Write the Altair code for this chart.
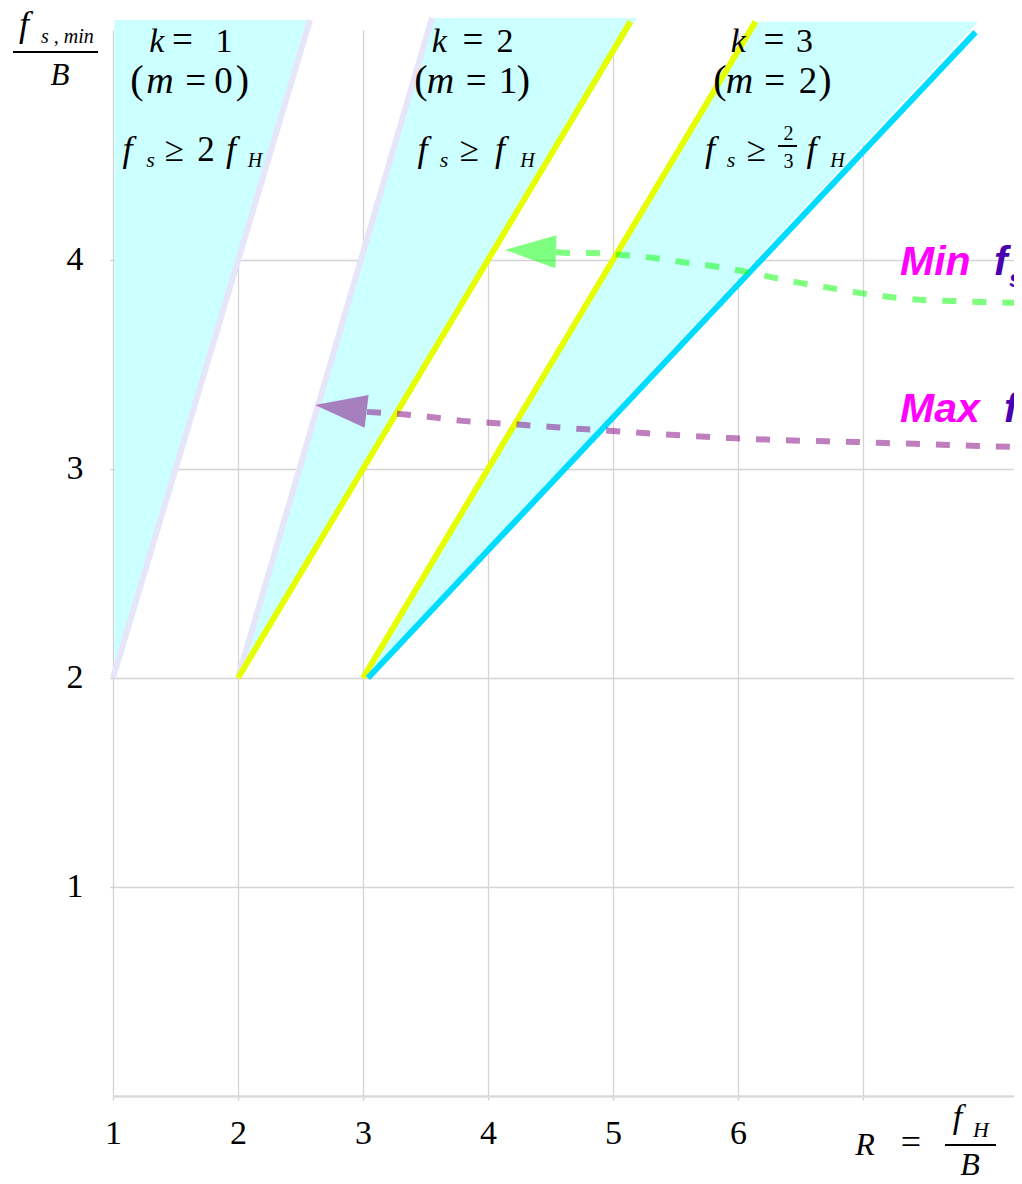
import altair as alt
import pandas as pd

# ---------------- data ----------------
# shaded wedges (allowed sampling regions), k = 1, 2, 3
wedge_k = [1, 2, 3]
wedge_bottom_R = [1.01, 2.0, 3.02]
wedge_bottom_y = [2.0, 2.0, 2.0]
wedge_top_y = [5.148, 5.158, 5.139]
wedge_top_left_R = [1.01, 3.552, 6.14]
wedge_top_right_R = [2.55, 5.19, 7.92]

# boundary lines of the wedges
line_name = ["lav1", "lav2", "yel2", "yel3", "cyan3"]
line_kind = ["lavender", "lavender", "yellow", "yellow", "cyan"]
line_R0 = [1.0, 2.0, 2.0, 3.0, 3.04]
line_y0 = [2.0, 2.0, 2.0, 2.0, 2.0]
line_R1 = [2.576, 3.552, 5.14, 6.14, 7.9]
line_y1 = [5.148, 5.158, 5.14, 5.14, 5.09]

# dashed "Min fs" curve (green), from arrow base to right edge
min_R = [4.544, 4.672, 4.84, 5.072, 5.312, 5.552, 5.792, 6.032, 6.256, 6.496,
         6.736, 6.976, 7.216, 7.456, 7.696, 7.936, 8.272]
min_y = [4.038, 4.033, 4.033, 4.024, 4.010, 3.990, 3.971, 3.947, 3.919, 3.890,
         3.866, 3.842, 3.823, 3.809, 3.804, 3.799, 3.794]
min_tip = (4.136, 4.048)

# dashed "Max fs" curve (purple)
max_R = [3.032, 3.296, 3.536, 3.792, 4.04, 4.272, 4.512, 4.752, 5.0, 5.24,
         5.936, 6.704, 6.944, 7.184, 7.424, 7.68, 7.92, 8.272]
max_y = [3.273, 3.263, 3.249, 3.230, 3.220, 3.211, 3.201, 3.191, 3.182, 3.172,
         3.148, 3.132, 3.129, 3.124, 3.120, 3.115, 3.110, 3.105]
max_tip = (2.616, 3.306)

x_ticks = [1, 2, 3, 4, 5, 6, 7]
y_ticks = [1, 2, 3, 4]

# ---------------- annotation text pieces ----------------
L1, L2, L3, SUB = 4.995, 4.799, 4.474, 4.445
pieces = [
    # k = 1
    ("k", 1.350, L1, 34, "i"), ("=", 1.556, L1, 37, "n"), ("1", 1.888, L1, 34, "n"),
    ("(", 1.192, L2, 40, "n"), ("m", 1.376, L2, 38, "i"), ("=", 1.662, L2, 37, "n"),
    ("0", 1.884, L2, 37, "n"), (")", 2.036, L2, 40, "n"),
    ("f", 1.116, L3, 36, "i"), ("s", 1.300, SUB, 22, "i"), ("≥", 1.488, L3, 35, "n"),
    ("2", 1.744, L3, 35, "n"), ("f", 1.944, L3, 36, "i"), ("H", 2.136, SUB, 20, "i"),
    # k = 2
    ("k", 3.610, L1, 34, "i"), ("=", 3.880, L1, 37, "n"), ("2", 4.136, L1, 34, "n"),
    ("(", 3.464, L2, 40, "n"), ("m", 3.620, L2, 38, "i"), ("=", 3.906, L2, 37, "n"),
    ("1", 4.160, L2, 37, "n"), (")", 4.284, L2, 40, "n"),
    ("f", 3.476, L3, 36, "i"), ("s", 3.648, SUB, 22, "i"), ("≥", 3.848, L3, 35, "n"),
    ("f", 4.096, L3, 36, "i"), ("H", 4.316, SUB, 20, "i"),
    # k = 3
    ("k", 6.002, L1, 34, "i"), ("=", 6.288, L1, 37, "n"), ("3", 6.532, L1, 34, "n"),
    ("(", 5.856, L2, 40, "n"), ("m", 6.012, L2, 38, "i"), ("=", 6.294, L2, 37, "n"),
    ("2", 6.560, L2, 37, "n"), (")", 6.696, L2, 40, "n"),
    ("f", 5.776, L3, 36, "i"), ("s", 5.944, SUB, 22, "i"), ("≥", 6.144, L3, 35, "n"),
    ("2", 6.404, 4.574, 20, "n"), ("3", 6.404, 4.440, 20, "n"),
    ("f", 6.588, L3, 36, "i"), ("H", 6.796, SUB, 20, "i"),
    # y-axis title  f_{s,min} / B
    ("f", 0.288, 5.072, 36, "i"), ("B", 0.576, 4.837, 31, "i"),
    # x-axis title  R = f_H / B
    ("R", 7.016, -0.282, 32, "i"), ("=", 7.384, -0.276, 36, "n"),
    ("f", 7.756, -0.153, 34, "i"), ("H", 7.944, -0.196, 22, "i"),
    ("B", 7.856, -0.376, 32, "i"),
]
left_pieces = [("s , min", 0.424, 5.038, 20, "i")]
bars = [(6.32, 6.472, 4.545), (0.2, 0.88, 4.995), (7.656, 8.064, -0.234)]
word_pieces = [("Min", 7.296, 3.928, 41), ("Max", 7.296, 3.225, 41)]
sym_pieces = [("f", 8.048, 3.928, 41), ("s", 8.168, 3.871, 24),
              ("f", 8.128, 3.225, 41), ("s", 8.256, 3.177, 24)]

# ---------------- tables ----------------
area_rows = []
for k, rb, yb, yt, rl, rr in zip(wedge_k, wedge_bottom_R, wedge_bottom_y,
                                 wedge_top_y, wedge_top_left_R, wedge_top_right_R):
    area_rows.append({"k": k, "y": yb, "xl": rb, "xr": rb})
    area_rows.append({"k": k, "y": yt, "xl": rl, "xr": rr})
area_df = pd.DataFrame(area_rows)

line_rows = []
for n, kd, r0, y0, r1, y1 in zip(line_name, line_kind, line_R0, line_y0, line_R1, line_y1):
    line_rows.append({"name": n, "kind": kd, "R": r0, "y": y0})
    line_rows.append({"name": n, "kind": kd, "R": r1, "y": y1})
line_df = pd.DataFrame(line_rows)

min_df = pd.DataFrame({"R": min_R, "y": min_y})
max_df = pd.DataFrame({"R": max_R, "y": max_y})
min_tip_df = pd.DataFrame({"R": [min_tip[0]], "y": [min_tip[1]]})
max_tip_df = pd.DataFrame({"R": [max_tip[0]], "y": [max_tip[1]]})

txt_df = pd.DataFrame(pieces, columns=["t", "R", "y", "fs", "st"])
left_df = pd.DataFrame(left_pieces, columns=["t", "R", "y", "fs", "st"])
bar_df = pd.DataFrame(bars, columns=["R", "R2", "y"])
word_df = pd.DataFrame(word_pieces, columns=["t", "R", "y", "fs"])
sym_df = pd.DataFrame(sym_pieces, columns=["t", "R", "y", "fs"])

# ---------------- scales / axes ----------------
# 125 px per unit on x, 209 px per unit on y (as in the reference)
xscale = alt.Scale(domain=[1, 8.208], nice=False, zero=False)
yscale = alt.Scale(domain=[0, 5.1], nice=False, zero=False)
xaxis = alt.Axis(values=x_ticks, labelExpr="datum.value < 7 ? datum.label : ''",
                 grid=True, gridColor="#d4d4d4", gridWidth=1.3,
                 domainColor="#dadada", domainWidth=2.5,
                 tickColor="#cccccc", tickSize=4, tickWidth=1.3,
                 labelFont="Liberation Serif", labelFontSize=34, labelColor="#000000",
                 labelBaseline="alphabetic", labelPadding=43,
                 labelFlush=False, labelOverlap=False, title=None)
yaxis = alt.Axis(values=y_ticks, grid=True, gridColor="#d4d4d4", gridWidth=1.3,
                 domain=False, tickColor="#cccccc", tickSize=3, tickWidth=1.3,
                 labelFont="Liberation Serif", labelFontSize=34, labelColor="#000000",
                 labelPadding=27, labelOverlap=False, title=None)


def X(field):
    return alt.X(field, type="quantitative", scale=xscale, axis=xaxis)


def Y(field):
    return alt.Y(field, type="quantitative", scale=yscale, axis=yaxis)


areas = alt.Chart(area_df).mark_area(orient="horizontal", color="#ccffff",
                                     opacity=1, strokeWidth=0).encode(
    y=Y("y"), x=alt.X("xl:Q", scale=xscale, axis=xaxis, stack=False),
    x2="xr:Q", detail="k:N")

lines = alt.Chart(line_df).mark_line(strokeWidth=6, strokeCap="butt").encode(
    x=X("R"), y=Y("y"),
    color=alt.Color("kind:N", scale=alt.Scale(domain=["lavender", "yellow", "cyan"],
                                              range=["#e6e6fa", "#e5ff00", "#00dcff"]),
                    legend=None),
    detail="name:N")

min_line = alt.Chart(min_df).mark_line(interpolate="monotone", color="#00ff00",
                                       opacity=0.5, strokeWidth=6,
                                       strokeDash=[14, 16], strokeCap="butt").encode(
    x=X("R"), y=Y("y"))
max_line = alt.Chart(max_df).mark_line(interpolate="monotone", color="#800080",
                                       opacity=0.5, strokeWidth=6,
                                       strokeDash=[14, 16], strokeCap="butt").encode(
    x=X("R"), y=Y("y"))

min_head = alt.Chart(min_tip_df).mark_point(shape="M0,0L2,-0.647L2,0.647Z", filled=True,
                                            size=2601, color="#00ff00", opacity=0.5,
                                            strokeWidth=0, angle=2).encode(
    x=X("R"), y=Y("y"))
max_head = alt.Chart(max_tip_df).mark_point(shape="M0,0L2,-0.635L2,0.635Z", filled=True,
                                            size=2704, color="#800080", opacity=0.5,
                                            strokeWidth=0, angle=7).encode(
    x=X("R"), y=Y("y"))

txt_it = alt.Chart(txt_df[txt_df.st == "i"]).mark_text(
    font="Liberation Serif", fontStyle="italic", align="center", baseline="alphabetic",
    color="#000000").encode(x=X("R"), y=Y("y"), text="t:N",
                            size=alt.Size("fs:Q", scale=None))
txt_n = alt.Chart(txt_df[txt_df.st == "n"]).mark_text(
    font="Liberation Serif", align="center", baseline="alphabetic",
    color="#000000").encode(x=X("R"), y=Y("y"), text="t:N",
                            size=alt.Size("fs:Q", scale=None))
txt_left = alt.Chart(left_df).mark_text(
    font="Liberation Serif", fontStyle="italic", align="left", baseline="alphabetic",
    color="#000000").encode(x=X("R"), y=Y("y"), text="t:N",
                            size=alt.Size("fs:Q", scale=None))
bar_rules = alt.Chart(bar_df).mark_rule(color="#000000", strokeWidth=2).encode(
    x=X("R"), x2="R2:Q", y=Y("y"))

word_text = alt.Chart(word_df).mark_text(
    font="Liberation Sans", fontStyle="italic", fontWeight="bold", align="left",
    baseline="alphabetic", color="#ff00ff").encode(
    x=X("R"), y=Y("y"), text="t:N", size=alt.Size("fs:Q", scale=None))
sym_text = alt.Chart(sym_df).mark_text(
    font="Liberation Sans", fontStyle="italic", fontWeight="bold", align="left",
    baseline="alphabetic", color="#4a00b0").encode(
    x=X("R"), y=Y("y"), text="t:N", size=alt.Size("fs:Q", scale=None))

chart = alt.layer(areas, lines, min_line, max_line, min_head, max_head,
                  txt_it, txt_n, txt_left, bar_rules, word_text, sym_text).properties(
    width=901, height=1066,
    autosize=alt.AutoSizeParams(type="none"),
    padding={"left": 105, "top": 22, "right": 0, "bottom": 80},
).configure_view(stroke=None)

chart.save("out.html", embed_options={"renderer": "svg", "actions": False})
